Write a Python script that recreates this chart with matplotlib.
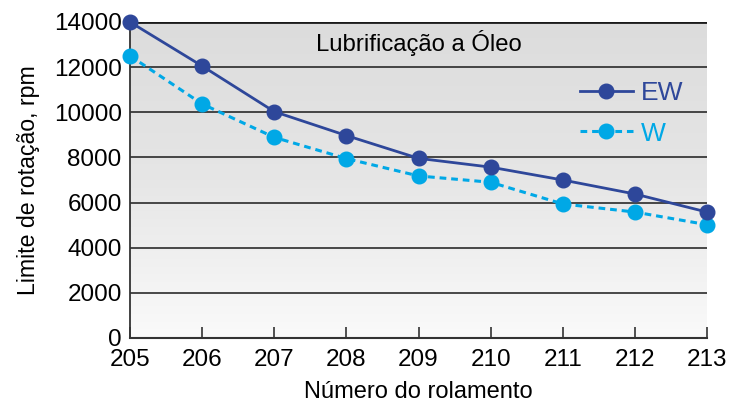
import numpy as np
import matplotlib
matplotlib.use("Agg")
import matplotlib.pyplot as plt
from matplotlib.colors import LinearSegmentedColormap

plt.rcParams['font.family'] = ['Liberation Sans', 'DejaVu Sans']

bearings = [205, 206, 207, 208, 209, 210, 211, 212, 213]
ew_values = [14000, 12050, 10030, 8970, 7960, 7570, 7000, 6380, 5580]
w_values = [12500, 10370, 8890, 7950, 7180, 6900, 5940, 5580, 5020]
y_ticks = [0, 2000, 4000, 6000, 8000, 10000, 12000, 14000]

c_ew = '#2e479a'
c_w = '#00a8e6'

fig = plt.figure(figsize=(7.49, 4.04), dpi=100)
ax = fig.add_axes([130/749, 1 - 338/404, (707-130)/749, (338-22)/404])

cmap = LinearSegmentedColormap.from_list('bg', ['#fafafa', '#e6e6e6', '#dcdcdc'])
grad = np.linspace(0, 1, 256).reshape(-1, 1)
ax.imshow(grad, cmap=cmap, aspect='auto', origin='lower',
          extent=[bearings[0], bearings[-1], 0, y_ticks[-1]], zorder=0)

for yv in y_ticks[1:-1]:
    ax.axhline(yv, color='#1a1a1a', lw=1.1, zorder=1)
ax.axhline(y_ticks[-1], color='#1a1a1a', lw=2.0, zorder=1)

ax.plot(bearings, ew_values, color=c_ew, lw=2.0, marker='o', ms=10.5,
        zorder=4, clip_on=False, label='EW')
ax.plot(bearings, w_values, color=c_w, lw=2.2, marker='o', ms=10.5,
        ls=(0, (2.2, 1.6)), zorder=3, clip_on=False, label='W')

ax.set_xlim(bearings[0], bearings[-1])
ax.set_ylim(0, y_ticks[-1])
ax.set_xticks(bearings)
ax.set_yticks(y_ticks)
ax.tick_params(axis='x', direction='in', length=8, width=1.2, color='#333333',
               labelsize=17.5, pad=8)
ax.tick_params(axis='y', length=0, labelsize=17.5, pad=6)
for s in ['top', 'right']:
    ax.spines[s].set_visible(False)
ax.spines['left'].set_color('#333333')
ax.spines['left'].set_linewidth(1.3)
ax.spines['bottom'].set_color('#333333')
ax.spines['bottom'].set_linewidth(1.5)

ax.set_xlabel('Número do rolamento', fontsize=17, labelpad=7)
ax.set_ylabel('Limite de rotação, rpm', fontsize=16.7, labelpad=10)

ax.text(0.5, 0.935, 'Lubrificação a Óleo', transform=ax.transAxes,
        ha='center', va='center', fontsize=17.2, zorder=5)

leg = ax.legend(loc='upper right', bbox_to_anchor=(1.0, 0.888), frameon=False,
                fontsize=19, handlelength=2.0, labelspacing=0.62,
                handletextpad=0.3)
for t, c in zip(leg.get_texts(), [c_ew, c_w]):
    t.set_color(c)

fig.savefig('out.png', dpi=100)
